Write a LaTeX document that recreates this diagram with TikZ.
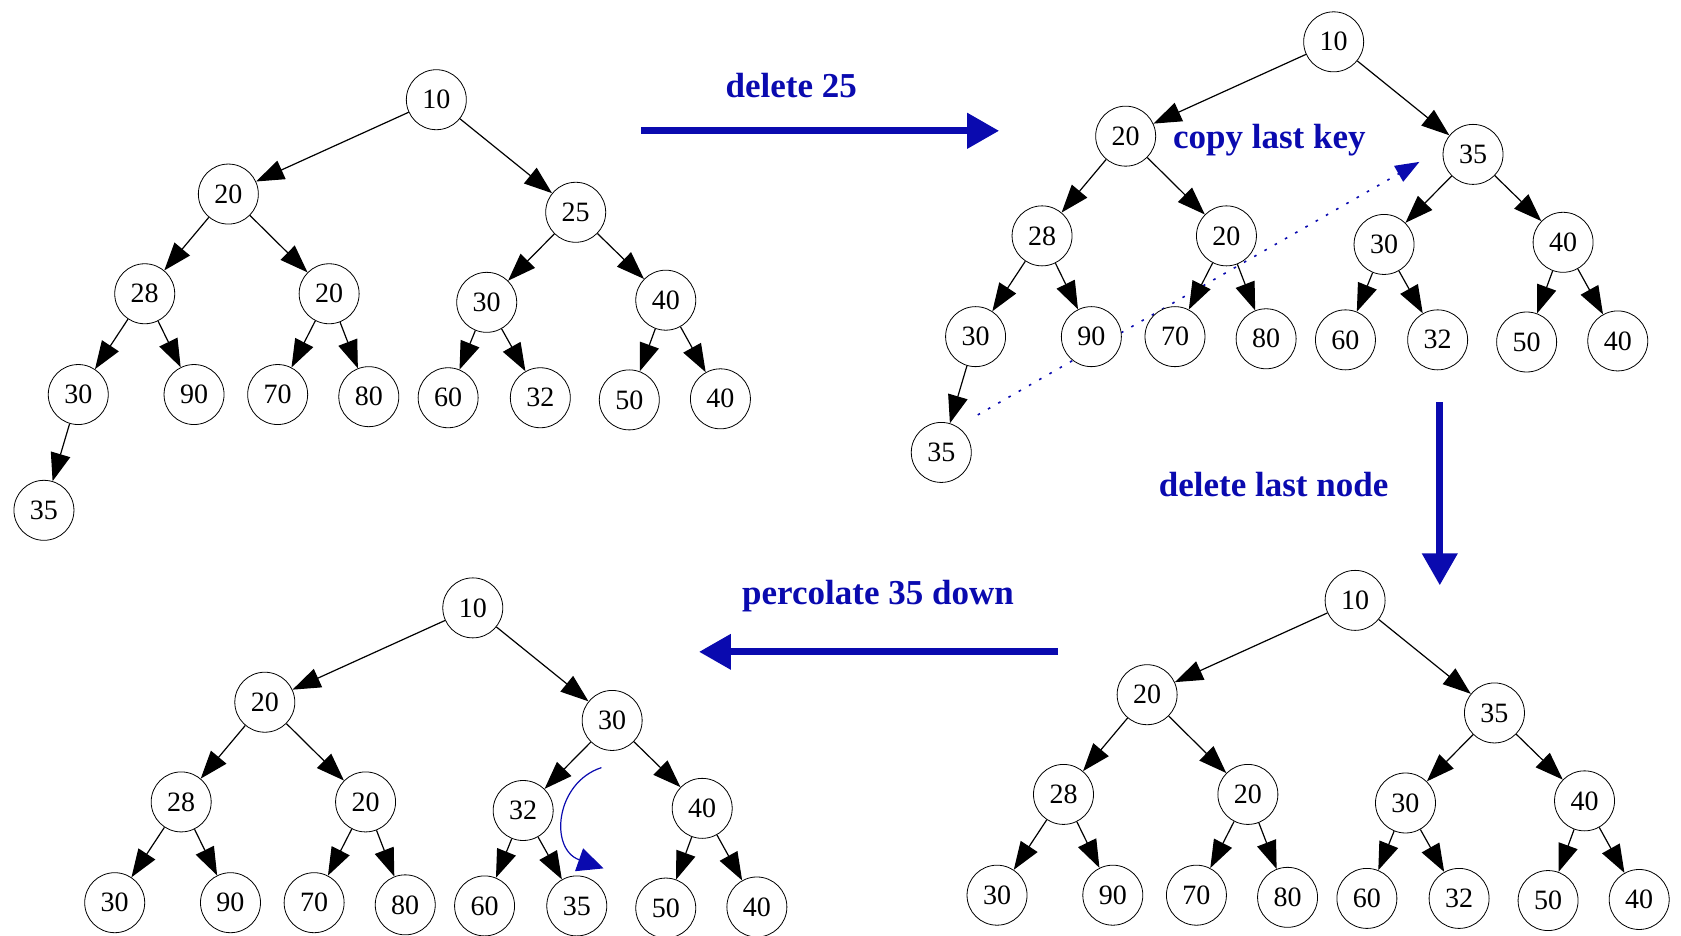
\documentclass[tikz,border=0pt]{standalone}
\usepackage{fontspec}
\setmainfont{Liberation Serif}
\usetikzlibrary{arrows.meta}
\definecolor{opblue}{RGB}{10,10,175}
\tikzset{
  key/.style={circle,draw,fill=white,thin,minimum size=30pt,inner sep=0pt,
    font=\fontsize{14}{16}\selectfont},
  edge/.style={line width=0.6pt,-{Triangle[length=14pt,width=10pt]}},
  bigarrow/.style={opblue,line width=3.6pt,-{Triangle[length=16pt,width=17pt]}},
  oplabel/.style={text=opblue,font=\fontsize{17.5}{20}\selectfont\bfseries},
  movearrow/.style={opblue,line width=0.6pt,-{Triangle[length=13pt,width=12pt]}},
}
% one heap: list of name/x/y/key relative to the root, and the root position
\newcommand\heapnodes[2]{%
  \begin{scope}[shift={#2}]
    \foreach \n/\px/\py/\k in {#1} \node[key] (\n) at (\px,\py) {\k};
  \end{scope}}
\newcommand\heapedges[1]{%
  \foreach \p/\c in {r/a,r/b,a/aa,a/ab,b/ba,b/bb,aa/aaa,aa/aab,ab/aba,ab/abb,
      ba/baa,ba/bab,bb/bba,bb/bbb}
    \draw[edge] (#1\p) -- (#1\c);}
\begin{document}
\begin{tikzpicture}[x=0.536pt,y=-0.536pt]
\useasboundingbox (0,0) rectangle (1568,873);

% copying the last key up to the emptied slot (drawn first, keys cover it)
\coordinate (cs) at (912,387);   \coordinate (ce) at (1324,151);
\draw[opblue,line width=0.8pt,dash pattern=on 1.3pt off 4.6pt,
  -{Triangle[length=12pt,width=9pt]}] (cs) -- (ce);

% first heap, before deleting 25
\heapnodes{t1r/0/0/10, t1a/-194/88/20, t1b/130/105/25, t1aa/-272/181/28,
  t1ab/-100/181/20, t1ba/47/189/30, t1bb/214/187/40, t1aaa/-334/275/30,
  t1aab/-226/275/90, t1aba/-148/275/70, t1abb/-63/277/80, t1baa/11/278/60,
  t1bab/97/278/32, t1bba/180/280/50, t1bbb/265/279/40, t1aaaa/-366/383/35}{(407,93)}
\heapedges{t1}
\draw[edge] (t1aaa) -- (t1aaaa);

% second heap, last key copied into the root of the right subtree
\heapnodes{t2r/0/0/10, t2a/-194/88/20, t2b/130/105/35, t2aa/-272/181/28,
  t2ab/-100/181/20, t2ba/47/189/30, t2bb/214/187/40, t2aaa/-334/275/30,
  t2aab/-226/275/90, t2aba/-148/275/70, t2abb/-63/277/80, t2baa/11/278/60,
  t2bab/97/278/32, t2bba/180/280/50, t2bbb/265/279/40, t2aaaa/-366/383/35}{(1244,39)}
\heapedges{t2}
\draw[edge] (t2aaa) -- (t2aaaa);
\node[oplabel] (l4) at (1184,131) {copy last key};

% third heap, last node removed
\heapnodes{t3r/0/0/10, t3a/-194/88/20, t3b/130/105/35, t3aa/-272/181/28,
  t3ab/-100/181/20, t3ba/47/189/30, t3bb/214/187/40, t3aaa/-334/275/30,
  t3aab/-226/275/90, t3aba/-148/275/70, t3abb/-63/277/80, t3baa/11/278/60,
  t3bab/97/278/32, t3bba/180/280/50, t3bbb/265/279/40}{(1264,560)}
\heapedges{t3}

% fourth heap, after percolating 35 down
\heapnodes{t4r/0/0/10, t4a/-194/88/20, t4b/130/105/30, t4aa/-272/181/28,
  t4ab/-100/181/20, t4ba/47/189/32, t4bb/214/187/40, t4aaa/-334/275/30,
  t4aab/-226/275/90, t4aba/-148/275/70, t4abb/-63/277/80, t4baa/11/278/60,
  t4bab/97/278/35, t4bba/180/280/50, t4bbb/265/279/40}{(441,567)}
\heapedges{t4}

% operation arrows between the heaps
\coordinate (d1s) at (598,122);  \coordinate (d1e) at (932,122);
\draw[bigarrow] (d1s) -- (d1e);
\node[oplabel] (l1) at (738,80) {delete 25};

\coordinate (d2s) at (1343,375); \coordinate (d2e) at (1343,546);
\draw[bigarrow] (d2s) -- (d2e);
\node[oplabel] (l2) at (1188,452) {delete last node};

\coordinate (d3s) at (987,608);  \coordinate (d3e) at (652,608);
\draw[bigarrow] (d3s) -- (d3e);
\node[oplabel] (l3) at (819,556) {percolate 35 down};

% 35 moving down past 32
\coordinate (ps) at (561,716);   \coordinate (pe) at (563,810);
\draw[movearrow] (ps) .. controls (518,730) and (512,792) .. (pe);
\end{tikzpicture}
\end{document}
